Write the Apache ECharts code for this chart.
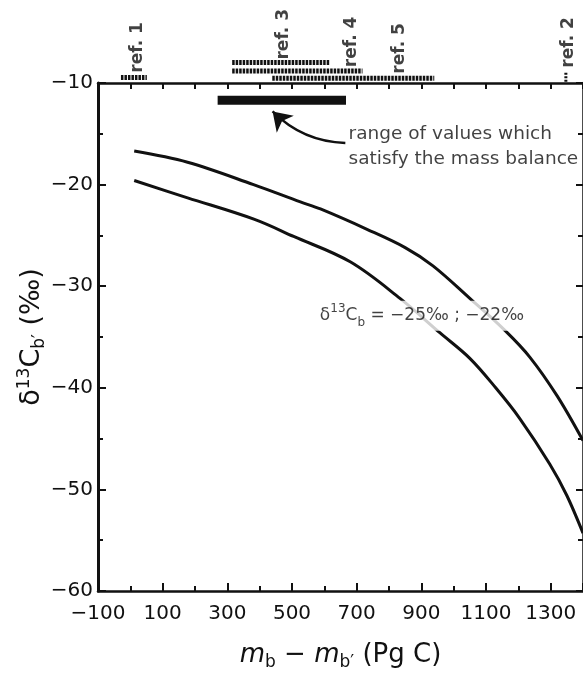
<!DOCTYPE html>
<html><head><meta charset="utf-8">
<script src="https://cdn.jsdelivr.net/npm/echarts@6/dist/echarts.min.js"></script>
<style>html,body{margin:0;padding:0;background:#fff}#c{width:583px;height:676px}</style>
</head><body><div id="c"></div>
<script>
// ---- data (x: m_b - m_b' in Pg C, y: delta13C in permil) ----
const xTicks = { min: -100, max: 1400, interval: 200 };
const yTicks = { min: -60, max: -10, interval: 10 };
const curveUpper = [[12,-16.7],[177,-17.8],[381,-20.0],[526,-21.7],[588,-22.4],[732,-24.4],[850,-26.2],[936,-28.0],[1050,-31.2],[1160,-34.4],[1236,-37.0],[1320,-40.8],[1400,-45.2]];
const curveLower = [[12,-19.6],[177,-21.3],[382,-23.4],[505,-25.1],[680,-27.6],[834,-31.2],[958,-34.6],[1050,-37.1],[1130,-40.0],[1204,-43.0],[1297,-47.5],[1350,-50.6],[1400,-54.3]];
const massBalanceRange = [[270,-11.7],[667,-11.7]];
const refRange1 = [[-29,-9.45],[51,-9.45]];
const refRange3 = [[315,-7.98],[617,-7.98]];
const refRange4 = [[315,-8.83],[718,-8.83]];
const refRange5 = [[439,-9.54],[940,-9.54]];
const refRange2 = [[1347,-9.0],[1347,-9.9]];
const refLabels = [['ref. 1',23,-6.5],['ref. 3',473,-5.2],['ref. 4',683,-5.95],['ref. 5',832,-6.6],['ref. 2',1356,-6.0]];
const arrowPath = [[665,-15.9],[440,-12.8]];
const noteText = ['range of values which','satisfy the mass balance'];
const notePos = [675,-16.3];
const curveLabelPos = [580,-32.9];

const FONT = '"DejaVu Sans", Verdana, sans-serif';
const INK = '#111';
const minus = v => String(v).replace('-', '\u2212');

const chart = echarts.init(document.getElementById('c'), null, { renderer: 'canvas' });

function rangeSeries(data, type, width) {
  return { type: 'line', data, clip: false, symbol: 'none', silent: true, z: 5,
    lineStyle: { color: INK, width, type, cap: 'butt' } };
}

const option = {
  backgroundColor: '#fff',
  animation: false,
  grid: { left: 98, top: 83, width: 486, height: 513, containLabel: false },
  xAxis: [
    { type: 'value', position: 'bottom', min: xTicks.min, max: xTicks.max, interval: xTicks.interval,
      axisLine: { show: true, onZero: false, lineStyle: { color: INK, width: 2.5 } },
      axisTick: { show: true, inside: true, length: 8, lineStyle: { color: INK, width: 2 } },
      minorTick: { show: true, splitNumber: 2, length: 5, lineStyle: { color: INK, width: 2 } },
      splitLine: { show: false },
      axisLabel: { color: INK, fontFamily: FONT, fontSize: 20, margin: 13, formatter: minus, showMaxLabel: false },
      name: '{i|m}{s|b}{t| \u2212 }{i|m}{s|b\u2032}{t| (Pg C)}', nameLocation: 'middle', nameGap: 48,
      nameTextStyle: { color: INK, fontFamily: FONT, fontSize: 26,
        rich: { i: { fontFamily: FONT, fontSize: 26, fontStyle: 'italic', color: INK, lineHeight: 32 },
                t: { fontFamily: FONT, fontSize: 26, color: INK, lineHeight: 32 },
                s: { fontFamily: FONT, fontSize: 17, color: INK, verticalAlign: 'bottom', lineHeight: 32, padding: [11,0,0,0] } } } },
    { type: 'value', position: 'top', min: xTicks.min, max: xTicks.max, interval: 100,
      axisLine: { show: true, onZero: false, lineStyle: { color: INK, width: 2.5 } },
      axisTick: { show: true, inside: true, length: 6, lineStyle: { color: INK, width: 2 } },
      axisLabel: { show: false }, splitLine: { show: false } }
  ],
  yAxis: [
    { type: 'value', position: 'left', min: yTicks.min, max: yTicks.max, interval: yTicks.interval,
      axisLine: { show: true, onZero: false, lineStyle: { color: INK, width: 3 } },
      axisTick: { show: true, inside: true, length: 8, lineStyle: { color: INK, width: 2 } },
      minorTick: { show: true, splitNumber: 2, length: 5, lineStyle: { color: INK, width: 2 } },
      splitLine: { show: false },
      axisLabel: { color: INK, fontFamily: FONT, fontSize: 20, margin: 5, formatter: minus },
      name: '{t|\u03b4}{p|13}{t|C}{s|b\u2032}{t| (\u2030)}', nameLocation: 'middle', nameGap: 50, nameRotate: 90,
      nameMoveOverlap: false,
      nameTextStyle: { color: INK, fontFamily: FONT, fontSize: 27,
        rich: { t: { fontFamily: FONT, fontSize: 27, color: INK, lineHeight: 32 },
                p: { fontFamily: FONT, fontSize: 17, color: INK, verticalAlign: 'top', lineHeight: 32, padding: [0,0,9,0] },
                s: { fontFamily: FONT, fontSize: 17, color: INK, verticalAlign: 'bottom', lineHeight: 32, padding: [11,0,0,0] } } } },
    { type: 'value', position: 'right', min: yTicks.min, max: yTicks.max, interval: yTicks.interval,
      axisLine: { show: true, onZero: false, lineStyle: { color: INK, width: 2.5 } },
      axisTick: { show: true, inside: true, length: 7, lineStyle: { color: INK, width: 2 } },
      minorTick: { show: true, splitNumber: 2, length: 5, lineStyle: { color: INK, width: 2 } },
      axisLabel: { show: false }, splitLine: { show: false } }
  ],
  series: [
    { type: 'line', name: 'upper', data: curveUpper, smooth: 0.35, symbol: 'none', z: 2, lineStyle: { color: INK, width: 3 } },
    { type: 'line', name: 'lower', data: curveLower, smooth: 0.35, symbol: 'none', z: 2, lineStyle: { color: INK, width: 3 } },
    rangeSeries(massBalanceRange, 'solid', 9),
    rangeSeries(refRange1, [2.5,1], 5),
    rangeSeries(refRange3, [2.5,1], 5),
    rangeSeries(refRange4, [2.5,1], 5),
    rangeSeries(refRange5, [2.5,1], 5),
    rangeSeries(refRange2, [2,1.5], 3),
    { type: 'scatter', clip: false, symbolSize: 0, silent: true, z: 10,
      data: refLabels.map(r => ({ value: [r[1], r[2]], name: r[0] })),
      label: { show: true, position: 'inside', rotate: 90, formatter: p => p.name,
               color: INK, fontFamily: FONT, fontSize: 17, fontWeight: 'bold' } },
    { type: 'scatter', clip: false, symbolSize: 0, silent: true, z: 10,
      data: [{ value: notePos }],
      label: { show: true, position: 'right', distance: 0, formatter: noteText.join('\n'), align: 'left',
               color: INK, fontFamily: FONT, fontSize: 18.5, lineHeight: 25 } },
    { type: 'scatter', clip: false, symbolSize: 0, silent: true, z: 10,
      data: [{ value: curveLabelPos }],
      label: { show: true, position: 'right', distance: 0, backgroundColor: '#fff', padding: [2, 2],
               formatter: '{t|\u03b4}{p|13}{t|C}{s|b}{t| = \u221225\u2030 ; \u221222\u2030}',
               rich: { t: { fontFamily: FONT, fontSize: 17, color: INK, lineHeight: 26 },
                       p: { fontFamily: FONT, fontSize: 12, color: INK, verticalAlign: 'top', lineHeight: 26, padding: [0,0,6,0] },
                       s: { fontFamily: FONT, fontSize: 12, color: INK, verticalAlign: 'bottom', lineHeight: 26, padding: [8,0,0,0] } } } },
    { type: 'lines', coordinateSystem: 'cartesian2d', silent: true, z: 6,
      symbol: ['none', 'arrow'], symbolSize: [14, 18],
      lineStyle: { color: INK, width: 2.5, curveness: 0.2, opacity: 1 },
      data: [{ coords: arrowPath }] }
  ]
};
chart.setOption(option);
</script></body></html>
